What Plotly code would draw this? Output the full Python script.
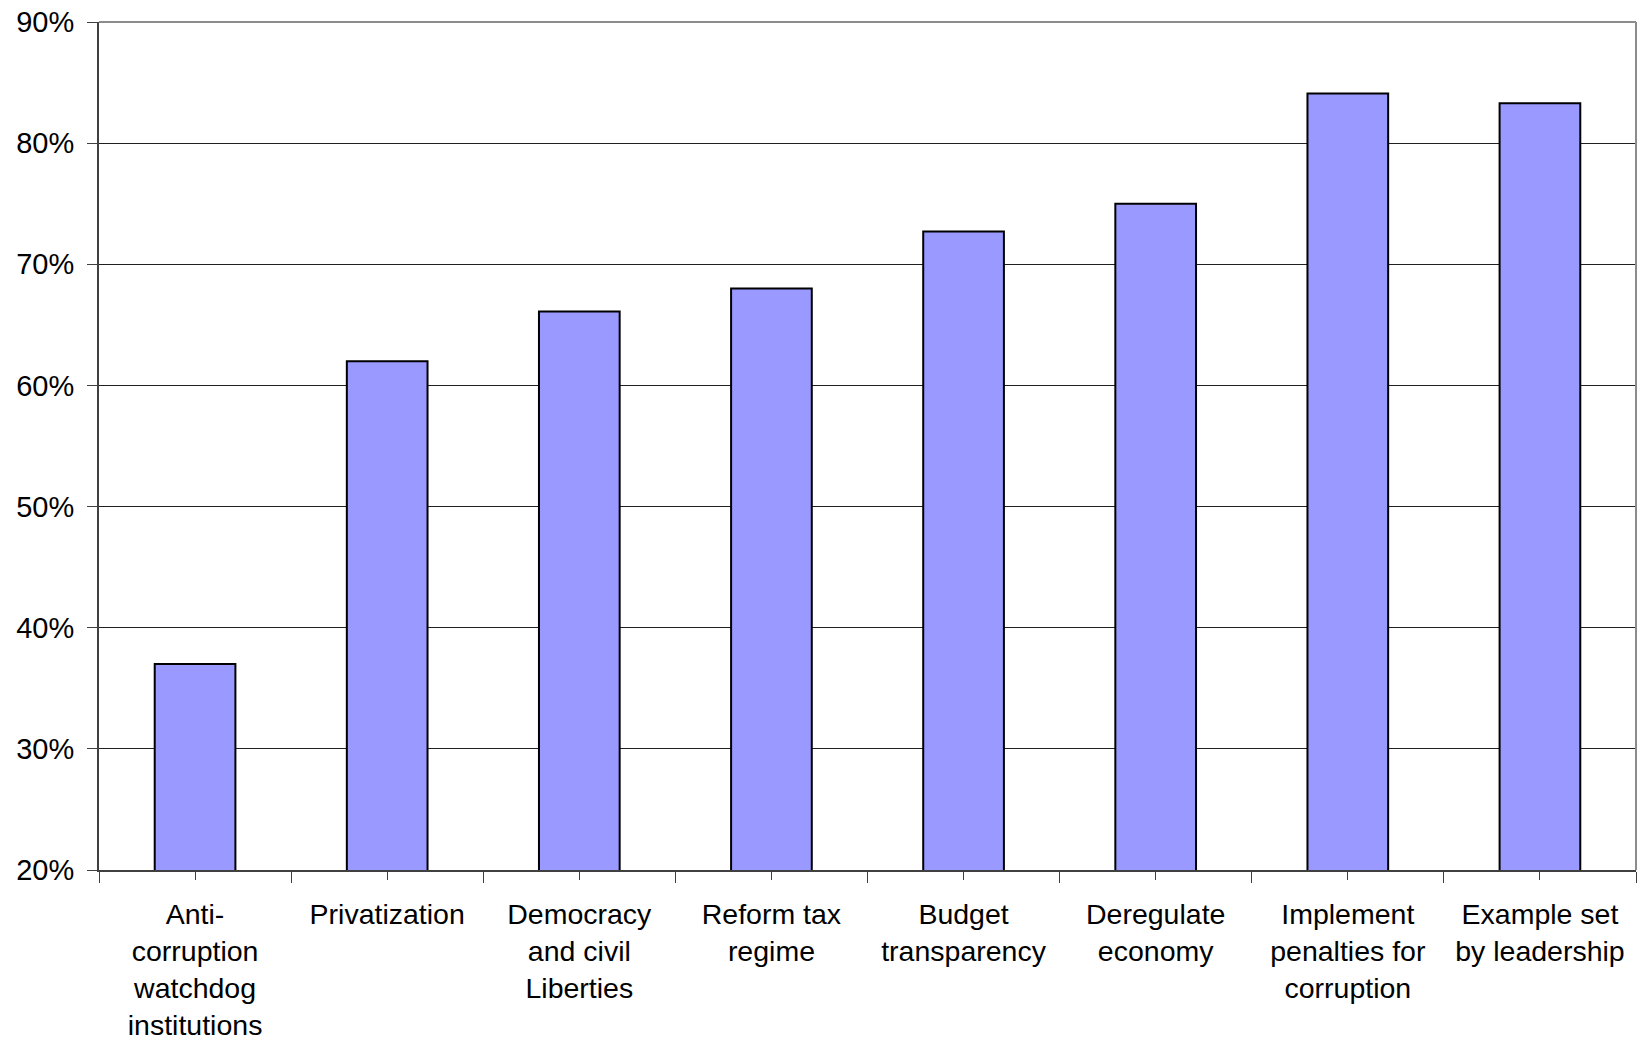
import plotly.graph_objects as go

# categories (x axis) and share of respondents (y axis, %)
categories = [
    "Anti-<br>corruption<br>watchdog<br>institutions",
    "Privatization",
    "Democracy<br>and civil<br>Liberties",
    "Reform tax<br>regime",
    "Budget<br>transparency",
    "Deregulate<br>economy",
    "Implement<br>penalties for<br>corruption",
    "Example set<br>by leadership",
]
values = [37.0, 62.0, 66.1, 68.0, 72.7, 75.0, 84.1, 83.3]
y_ticks = [20, 30, 40, 50, 60, 70, 80, 90]

positions = list(range(len(categories)))
font_family = "Liberation Sans, Arial, sans-serif"

fig = go.Figure(
    data=[
        go.Bar(
            x=positions,
            y=values,
            width=0.42,
            marker=dict(color="#9999FF", line=dict(color="black", width=2)),
            hoverinfo="y",
        )
    ]
)

fig.update_layout(
    width=1645,
    height=1053,
    margin=dict(l=99, r=9, t=22, b=183),
    plot_bgcolor="white",
    paper_bgcolor="white",
    showlegend=False,
    font=dict(family=font_family, size=29, color="black"),
    xaxis=dict(
        range=[-0.5, len(categories) - 0.5],
        tickmode="array",
        tickvals=positions,
        ticktext=categories,
        ticks="outside",
        ticklen=8,
        tickwidth=1,
        tickcolor="#404040",
        ticklabelstandoff=10,
        minor=dict(tickmode="linear", tick0=-0.5, dtick=1, ticks="outside",
                   ticklen=11, tickwidth=1, tickcolor="#404040", showgrid=False),
        showgrid=False,
        showline=True,
        linecolor="#404040",
        linewidth=2,
        zeroline=False,
        automargin=False,
        tickfont=dict(size=28.5),
    ),
    yaxis=dict(
        range=[20, 90],
        tickmode="array",
        tickvals=y_ticks,
        ticktext=[f"{v}%" for v in y_ticks],
        ticks="outside",
        ticklen=10,
        tickwidth=1,
        tickcolor="#404040",
        ticklabelstandoff=7,
        showgrid=True,
        gridcolor="#202020",
        gridwidth=1,
        showline=True,
        linecolor="#404040",
        linewidth=2,
        zeroline=False,
        automargin=False,
        tickfont=dict(size=29),
    ),
    shapes=[
        dict(type="line", xref="paper", yref="paper", x0=0, x1=1, y0=1, y1=1,
             line=dict(color="#8c8c8c", width=2)),
        dict(type="line", xref="paper", yref="paper", x0=1, x1=1, y0=0, y1=1,
             line=dict(color="#8c8c8c", width=2)),
    ],
)

# drop the browser's default body margin so the figure sits at the page origin
fig.write_html(
    "out.html",
    config={"displayModeBar": False},
    post_script="document.body.style.margin='0';",
)
